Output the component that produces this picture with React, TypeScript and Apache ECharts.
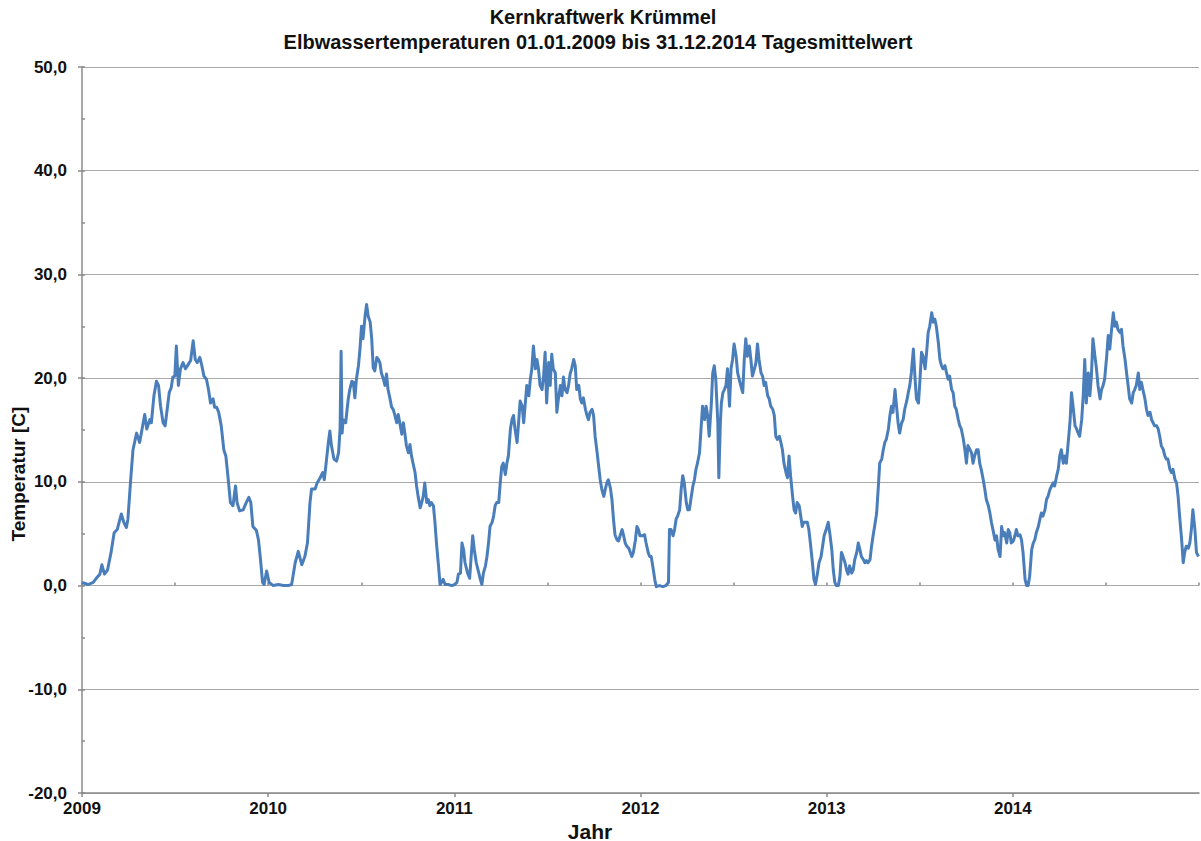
import React, { useEffect, useRef } from "react";
import * as echarts from "echarts";

// [day of year, daily mean temperature °C]
const y2009: [number, number][] = [[0,0.3],[12,0.1],[22,0.3],[28,0.7],[35,1.1],[39,2.0],[44,1.1],[50,1.5],[57,3.2],[63,5.1],[69,5.4],[77,6.9],[82,6.1],[87,5.6],[90,6.4],[95,9.9],[100,13.1],[107,14.7],[113,13.8],[120,15.7],[123,16.5],[127,15.1],[133,16.0],[136,15.7],[141,18.3],[146,19.7],[150,19.3],[154,17.3],[159,15.7],[163,15.4],[167,17.0],[171,18.6],[175,19.1],[178,20.1],[182,20.2],[185,23.1],[189,19.3],[193,20.9],[198,21.5],[203,20.9],[208,21.3],[213,21.7],[218,23.6],[222,21.8],[226,21.5],[231,22.0],[235,21.2],[239,20.2],[244,19.9],[248,18.9],[252,17.6],[257,18.0],[260,17.2],[264,17.2],[268,16.7],[273,15.4],[278,13.1],[282,12.5],[286,10.6],[291,8.0],[296,7.7],[301,9.6],[304,8.0],[309,7.2],[316,7.3],[322,8.0],[327,8.5],[331,8.0],[335,5.7],[342,5.3],[346,4.4],[350,2.5],[354,0.3],[357,0.1],[362,1.4]];
const y2010: [number, number][] = [[2,0.3],[10,0],[20,0.1],[30,0],[39,0],[46,0.1],[53,2.2],[59,3.3],[66,2.0],[72,2.8],[77,4.1],[82,8.0],[85,9.3],[92,9.3],[96,9.9],[102,10.4],[107,10.9],[110,10.2],[113,11.5],[118,13.8],[121,14.9],[124,13.5],[129,12.2],[134,12.0],[138,12.8],[141,15.1],[143,22.6],[145,14.7],[147,16.0],[152,15.7],[157,18.0],[160,18.9],[164,19.7],[167,19.6],[170,18.1],[173,19.9],[177,21.2],[180,22.8],[183,25.0],[186,23.8],[190,26.0],[193,27.1],[196,26.0],[200,25.4],[203,23.8],[206,21.0],[209,20.7],[213,22.0],[216,21.8],[219,21.5],[222,20.5],[226,19.9],[229,19.3],[232,20.4],[235,18.9],[239,18.0],[242,17.2],[245,17.0],[248,16.5],[252,15.7],[255,16.5],[258,15.7],[262,14.6],[265,15.7],[268,14.7],[271,13.5],[275,12.8],[278,13.6],[281,12.5],[284,11.8],[288,10.9],[291,9.6],[294,8.6],[298,7.5],[301,8.0],[304,8.6],[307,9.9],[311,8.0],[314,8.3],[317,7.7],[320,8.0],[324,7.7],[327,6.1],[330,4.1],[334,1.9],[337,0.1],[340,0.3],[343,0.6],[347,0.1],[353,0.1],[360,0]];
const y2011: [number, number][] = [[1,0.1],[5,0.3],[8,1.1],[12,1.2],[15,4.1],[18,3.5],[21,2.2],[26,1.2],[30,0.7],[33,2.8],[36,4.8],[39,3.5],[43,2.2],[48,1.2],[51,0.6],[54,0.1],[57,1.2],[61,1.9],[64,2.8],[67,4.1],[70,5.7],[74,6.1],[77,6.7],[80,7.7],[83,8.0],[87,8.0],[90,9.9],[93,11.5],[96,11.8],[100,10.7],[103,11.8],[106,12.5],[110,15.1],[113,16.0],[116,16.4],[119,15.1],[123,13.8],[126,15.7],[129,17.8],[133,17.3],[136,15.7],[139,17.5],[142,19.3],[146,18.3],[149,19.9],[152,20.9],[155,23.1],[159,20.9],[162,21.8],[165,20.9],[168,19.3],[172,18.9],[175,20.2],[178,22.5],[181,17.6],[185,21.5],[188,19.3],[191,22.3],[194,20.9],[198,20.5],[201,16.7],[204,18.0],[208,19.3],[211,18.3],[214,20.1],[217,18.9],[221,18.6],[224,19.3],[227,20.4],[230,20.9],[234,21.8],[237,21.2],[240,18.9],[244,19.3],[247,18.0],[250,17.6],[253,18.1],[257,17.0],[260,16.4],[263,16.0],[266,16.7],[270,17.0],[273,16.4],[276,14.4],[280,12.8],[283,11.5],[286,10.2],[289,9.3],[293,8.6],[296,9.3],[299,9.9],[302,10.2],[306,9.4],[309,8.3],[312,6.4],[315,4.9],[319,4.4],[322,4.3],[325,4.8],[329,5.4],[332,4.8],[335,4.1],[338,3.8],[342,3.6],[345,3.2],[348,2.8],[351,3.2],[355,4.4],[358,5.7],[361,5.4],[364,4.8]];
const y2012: [number, number][] = [[3,4.8],[8,4.9],[11,4.1],[15,3.2],[18,2.8],[21,2.8],[24,1.9],[28,0.6],[31,-0.1],[37,0],[44,-0.1],[50,0],[55,0.3],[57,5.4],[60,5.4],[64,4.8],[67,5.4],[70,6.4],[73,6.7],[77,7.3],[80,9.3],[83,10.6],[86,9.9],[90,8.0],[93,7.3],[96,7.3],[99,8.3],[103,9.6],[106,10.2],[109,11.2],[112,11.8],[116,12.8],[119,15.1],[122,17.3],[126,16.0],[129,17.3],[132,16.4],[135,14.4],[139,17.3],[142,20.5],[145,21.2],[148,19.9],[152,15.7],[154,10.4],[157,15.7],[159,17.6],[162,18.6],[165,18.9],[168,19.3],[171,20.9],[175,17.3],[178,20.9],[181,21.8],[184,23.3],[188,22.1],[191,20.5],[194,19.9],[197,19.3],[201,18.6],[204,21.8],[207,23.8],[210,22.1],[214,23.1],[217,21.8],[220,20.2],[224,20.9],[227,21.5],[230,23.3],[233,21.8],[237,20.5],[240,20.2],[243,19.3],[246,19.6],[250,18.3],[253,18.0],[256,17.3],[260,17.0],[263,16.4],[266,14.4],[269,14.1],[273,14.4],[276,13.8],[279,13.1],[282,11.8],[286,10.9],[289,10.4],[292,12.5],[295,10.6],[299,8.6],[302,7.3],[305,7.0],[308,8.0],[312,7.7],[315,6.7],[318,5.7],[321,6.1],[325,6.1],[328,6.1],[331,5.4],[334,4.1],[338,2.2],[341,0.6],[344,0.1],[348,1.2],[351,2.2],[355,2.8],[358,3.8],[361,4.8],[365,5.4]];
const y2013: [number, number][] = [[3,6.1],[6,5.1],[10,3.5],[13,1.5],[16,0.3],[19,0],[23,0],[26,0.9],[29,3.2],[32,2.8],[36,2.2],[39,1.5],[42,1.1],[45,1.9],[49,1.2],[52,1.5],[55,2.5],[59,3.2],[62,4.1],[65,3.5],[68,2.8],[72,2.5],[75,2.2],[78,2.4],[81,2.2],[85,2.5],[88,3.8],[91,4.8],[94,5.7],[98,7.0],[101,9.3],[104,11.8],[108,12.2],[111,13.1],[114,13.8],[117,14.1],[121,15.1],[124,16.4],[127,17.3],[130,16.7],[134,18.9],[137,17.3],[140,15.7],[143,14.7],[147,15.7],[150,16.0],[153,17.0],[157,17.8],[160,18.6],[163,19.3],[166,20.5],[170,22.8],[173,20.2],[176,18.0],[180,17.6],[183,19.9],[186,22.5],[189,22.1],[193,20.9],[196,22.5],[199,24.4],[202,25.0],[206,26.3],[209,25.4],[212,25.7],[215,25.0],[219,23.4],[222,21.8],[225,21.2],[228,20.9],[232,21.2],[235,20.5],[238,19.9],[241,20.2],[245,18.9],[248,18.6],[251,17.3],[254,17.0],[258,16.0],[261,15.4],[264,15.1],[268,14.1],[271,13.1],[274,11.8],[277,13.5],[281,13.1],[284,12.8],[287,11.8],[290,12.5],[294,13.1],[297,13.1],[300,11.8],[303,11.2],[307,10.2],[310,9.3],[313,8.3],[317,7.7],[320,7.0],[323,6.1],[326,5.4],[330,4.4],[333,4.8],[336,3.5],[340,2.8],[343,5.7],[346,4.8],[349,5.1],[353,4.1],[356,5.4],[359,5.1],[362,4.1]];
const y2014: [number, number][] = [[1,4.3],[4,4.8],[7,5.4],[10,4.8],[14,4.9],[17,4.4],[20,3.2],[24,0.6],[27,0],[30,0],[33,0.9],[37,3.5],[40,4.1],[43,4.4],[46,5.1],[50,5.7],[53,6.4],[56,7.0],[59,6.7],[63,7.3],[66,8.3],[69,8.6],[73,9.3],[76,9.6],[79,9.9],[82,9.6],[86,10.6],[89,11.2],[92,12.5],[95,13.1],[99,11.8],[102,12.5],[105,11.8],[108,13.5],[112,15.7],[115,18.6],[118,17.3],[122,15.4],[125,15.1],[128,14.7],[131,14.4],[135,16.0],[138,18.3],[141,21.8],[144,17.6],[148,20.5],[151,18.3],[154,20.2],[157,23.8],[161,22.1],[164,20.9],[167,19.3],[171,18.0],[174,18.9],[177,19.3],[180,19.9],[184,22.1],[187,24.1],[190,22.8],[193,24.4],[197,26.3],[200,25.0],[203,25.4],[206,24.7],[210,24.4],[213,24.7],[216,23.1],[220,21.8],[223,20.5],[226,19.3],[229,18.0],[233,17.6],[236,18.6],[239,18.9],[242,19.3],[246,20.5],[249,18.9],[252,19.6],[255,18.9],[259,18.0],[262,17.0],[265,16.4],[269,16.7],[272,16.0],[275,15.7],[278,15.4],[282,15.4],[285,15.1],[288,14.4],[291,13.5],[295,13.1],[298,12.5],[301,12.2],[304,12.2],[308,11.2],[311,10.9],[314,11.2],[318,10.2],[321,9.9],[324,8.6],[327,6.7],[331,4.4],[334,2.2],[337,3.2],[340,3.8],[344,3.6],[347,4.1],[350,5.4],[353,7.3],[357,5.4],[360,3.2],[364,2.8]];

const years = [2009, 2010, 2011, 2012, 2013, 2014];
const yearly = [y2009, y2010, y2011, y2012, y2013, y2014];

const TITLE1 = "Kernkraftwerk Krümmel";
const TITLE2 = "Elbwassertemperaturen 01.01.2009 bis 31.12.2014 Tagesmittelwert";
const Y_NAME = "Temperatur [C]";
const X_NAME = "Jahr";

const FONT = "'Liberation Sans', Arial, sans-serif";

export default function App() {
  const ref = useRef<HTMLDivElement>(null);
  useEffect(() => {
    if (!ref.current) return;
    const chart = echarts.init(ref.current, undefined, { renderer: "svg" });
    const data: [number, number][] = [];
    yearly.forEach((arr, i) => {
      const y = years[i];
      const len = y % 4 === 0 ? 366 : 365;
      arr.forEach(([d, v]) => data.push([y + d / len, v]));
    });
    const axisColor = "#8a8a8a";
    chart.setOption({
      animation: false,
      backgroundColor: "#ffffff",
      grid: { left: 82, right: 2, top: 67, bottom: 48, containLabel: false },
      xAxis: [
        {
          type: "value",
          min: 2009,
          max: 2015,
          interval: 1,
          axisLine: { show: true, onZero: false, lineStyle: { color: axisColor, width: 1.5 } },
          axisTick: { show: true, inside: false, length: 4, lineStyle: { color: axisColor, width: 1.5 } },
          axisLabel: {
            show: true,
            margin: 7,
            fontFamily: FONT,
            fontWeight: "bold",
            fontSize: 17,
            color: "#111",
            showMinLabel: true,
            showMaxLabel: false,
            formatter: (v: number) => (v >= 2015 ? "" : String(Math.round(v))),
          },
          splitLine: { show: false },
        },
        {
          type: "value",
          position: "bottom",
          min: 2009,
          max: 2015,
          interval: 0.5,
          axisLine: { show: false },
          axisTick: { show: true, inside: true, length: 3, lineStyle: { color: axisColor, width: 1.5 } },
          axisLabel: { show: false },
          splitLine: { show: false },
        },
      ],
      yAxis: [
        {
          type: "value",
          min: -20,
          max: 50,
          interval: 10,
          axisLine: { show: true, onZero: false, lineStyle: { color: axisColor, width: 1.5 } },
          axisTick: { show: true, inside: false, length: 4, lineStyle: { color: axisColor, width: 1.5 } },
          axisLabel: {
            margin: 15,
            fontFamily: FONT,
            fontWeight: "bold",
            fontSize: 17,
            color: "#111",
            formatter: (v: number) => v.toFixed(1).replace(".", ","),
          },
          splitLine: { show: true, lineStyle: { color: "#a8a8a8", width: 1 } },
        },
        {
          type: "value",
          position: "left",
          min: -20,
          max: 50,
          interval: 5,
          axisLine: { show: false },
          axisTick: { show: true, inside: true, length: 3, lineStyle: { color: axisColor, width: 1.5 } },
          axisLabel: { show: false },
          splitLine: { show: false },
        },
      ],
      series: [
        {
          type: "line",
          xAxisIndex: 0,
          yAxisIndex: 0,
          data,
          showSymbol: false,
          symbol: "none",
          lineStyle: { color: "#4a7ebb", width: 3, join: "round" },
          itemStyle: { color: "#4a7ebb" },
        },
      ],
      graphic: [
        {
          type: "text",
          x: 603,
          y: 17,
          style: { text: TITLE1, font: `bold 20px ${FONT}`, fill: "#111", textAlign: "center", textVerticalAlign: "middle" },
        },
        {
          type: "text",
          x: 598,
          y: 42,
          style: { text: TITLE2, font: `bold 20px ${FONT}`, fill: "#111", textAlign: "center", textVerticalAlign: "middle" },
        },
        {
          type: "text",
          x: 18,
          y: 474,
          rotation: Math.PI / 2,
          style: { text: Y_NAME, font: `bold 19px ${FONT}`, fill: "#111", textAlign: "center", textVerticalAlign: "middle" },
        },
        {
          type: "text",
          x: 590,
          y: 831,
          style: { text: X_NAME, font: `bold 21px ${FONT}`, fill: "#111", textAlign: "center", textVerticalAlign: "middle" },
        },
      ],
    });
    return () => chart.dispose();
  }, []);
  return (
    <div
      ref={ref}
      style={{ position: "absolute", left: 0, top: 0, width: 1201, height: 841, background: "#fff" }}
    />
  );
}
